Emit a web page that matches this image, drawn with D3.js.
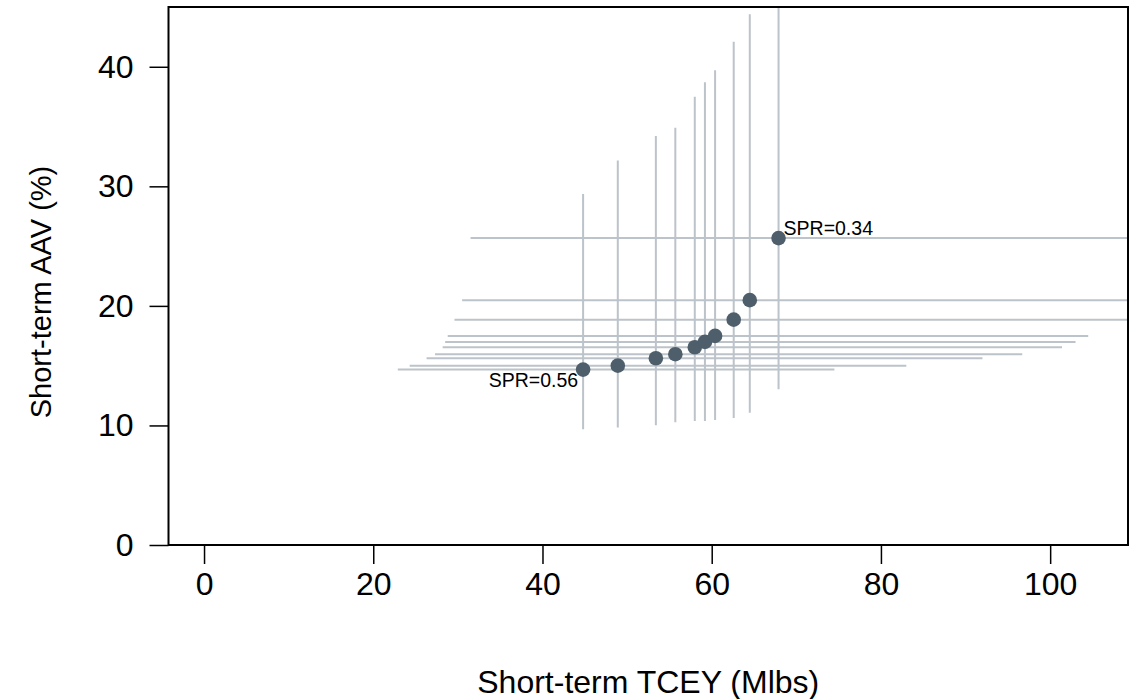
<!DOCTYPE html>
<html>
<head>
<meta charset="utf-8">
<script src="https://cdn.jsdelivr.net/npm/d3@7"></script>
<style>
  body { margin: 0; background: #fff; }
  text { font-family: "Liberation Sans", Arial, sans-serif; }
</style>
</head>
<body>
<svg id="chart"></svg>
<script>
// valori
const tcey   = [44.8, 48.9, 53.4, 55.7, 58.0, 59.2, 60.4, 62.6, 64.5, 67.9];
const aav    = [14.67, 15.0, 15.62, 15.96, 16.54, 16.99, 17.49, 18.85, 20.48, 25.67];
const tceyLo = [22.9, 24.3, 26.3, 27.3, 28.2, 28.5, 28.8, 29.6, 30.5, 31.5];
const tceyHi = [74.5, 83.0, 92.0, 96.7, 101.4, 103.0, 104.5, 112, 116, 124];
const aavLo  = [9.68, 9.82, 10.02, 10.27, 10.38, 10.38, 10.46, 10.63, 11.07, 13.03];
const aavHi  = [29.35, 32.16, 34.2, 34.9, 37.5, 38.7, 39.7, 42.1, 44.4, 52];
const xTicks = [0, 20, 40, 60, 80, 100];
const yTicks = [0, 10, 20, 30, 40];
const labels = [{i: 0, text: "SPR=0.56"}, {i: 9, text: "SPR=0.34"}];

const width = 1138, height = 699;
const margin = {top: 7, right: 10, bottom: 154, left: 168.5};

const svg = d3.select("#chart")
  .attr("width", width)
  .attr("height", height);

const data = tcey.map((d, i) => ({
  x: d, y: aav[i], xlo: tceyLo[i], xhi: tceyHi[i], ylo: aavLo[i], yhi: aavHi[i]
}));

// scale: xlim 0-105 con estensione del 4% come in R
const x = d3.scaleLinear().domain([-4.2, 109.2]).range([margin.left, width - margin.right]);
const y = d3.scaleLinear().domain([0, 45]).range([height - margin.bottom, margin.top]);

svg.append("defs").append("clipPath").attr("id", "clip")
  .append("rect")
  .attr("x", x.range()[0]).attr("y", y.range()[1])
  .attr("width", x.range()[1] - x.range()[0])
  .attr("height", y.range()[0] - y.range()[1]);

const plot = svg.append("g").attr("clip-path", "url(#clip)");
const lineColor = "#bcc3ca";

// barre orizzontali (intervallo TCEY)
plot.selectAll(".hbar")
  .data(data)
  .enter()
  .append("line")
  .attr("class", "hbar")
  .attr("x1", d => x(d.xlo)).attr("x2", d => x(d.xhi))
  .attr("y1", d => y(d.y)).attr("y2", d => y(d.y))
  .attr("stroke", lineColor)
  .attr("stroke-width", 2);

// barre verticali (intervallo AAV)
plot.selectAll(".vbar")
  .data(data)
  .enter()
  .append("line")
  .attr("class", "vbar")
  .attr("x1", d => x(d.x)).attr("x2", d => x(d.x))
  .attr("y1", d => y(d.ylo)).attr("y2", d => y(d.yhi))
  .attr("stroke", lineColor)
  .attr("stroke-width", 2);

plot.selectAll(".pt")
  .data(data)
  .enter()
  .append("circle")
  .attr("class", "pt")
  .attr("cx", d => x(d.x))
  .attr("cy", d => y(d.y))
  .attr("r", 7.3)
  .attr("fill", "#4e5e6b");

// etichette SPR
svg.selectAll(".lab")
  .data(labels)
  .enter()
  .append("text")
  .attr("class", "lab")
  .attr("x", d => x(tcey[d.i]) + (d.i === 0 ? -5 : 5))
  .attr("y", d => y(aav[d.i]) + (d.i === 0 ? 17 : -3))
  .attr("text-anchor", d => d.i === 0 ? "end" : "start")
  .attr("font-size", 19.5)
  .attr("fill", "#000")
  .text(d => d.text);

// assi
const xAxis = svg.append("g")
  .attr("transform", `translate(0,${y(0)})`)
  .call(d3.axisBottom(x).tickValues(xTicks).tickSize(19).tickPadding(8).tickSizeOuter(0));
const yAxis = svg.append("g")
  .attr("transform", `translate(${x.range()[0]},0)`)
  .call(d3.axisLeft(y).tickValues(yTicks).tickSize(19).tickPadding(16).tickSizeOuter(0));

[xAxis, yAxis].forEach(g => {
  g.select(".domain").remove();
  g.selectAll(".tick line").attr("stroke", "#000").attr("stroke-width", 1.5);
  g.selectAll(".tick text")
    .attr("font-size", 32)
    .attr("font-family", "Liberation Sans, Arial, sans-serif")
    .attr("fill", "#000");
});

// riquadro
svg.append("rect")
  .attr("x", x.range()[0]).attr("y", y.range()[1])
  .attr("width", x.range()[1] - x.range()[0])
  .attr("height", y.range()[0] - y.range()[1])
  .attr("fill", "none")
  .attr("stroke", "#000")
  .attr("stroke-width", 2);

// titoli
svg.append("text")
  .attr("x", (x.range()[0] + x.range()[1]) / 2)
  .attr("y", 693)
  .attr("text-anchor", "middle")
  .attr("font-size", 32)
  .text("Short-term TCEY (Mlbs)");

svg.append("text")
  .attr("transform", `translate(51,292) rotate(-90)`)
  .attr("text-anchor", "middle")
  .attr("font-size", 29)
  .text("Short-term AAV (%)");
</script>
</body>
</html>
